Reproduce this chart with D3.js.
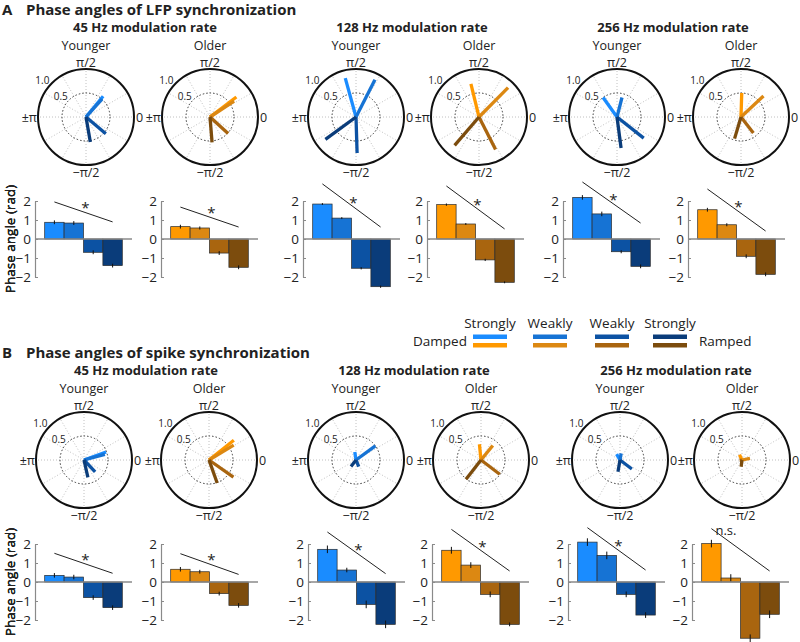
<!DOCTYPE html>
<html>
<head>
<meta charset="utf-8">
<script src="https://cdn.jsdelivr.net/npm/d3@7"></script>
<style>
  body { margin: 0; background: #fff; }
  text { font-family: "Open Sans", sans-serif; fill: #222; }
</style>
</head>
<body>
<script>
// subplot order everywhere: 45Y, 45O, 128Y, 128O, 256Y, 256O
var rates = ["45 Hz modulation rate", "128 Hz modulation rate", "256 Hz modulation rate"];
var groups = ["Younger", "Older"];
var conditions = ["Strongly", "Weakly", "Weakly", "Strongly"];

// LFP phase angles (rad), sem, and vector strength
var lfpPhase = [
    [0.88, 0.84, -0.70, -1.40],
    [0.65, 0.58, -0.74, -1.49],
    [1.84, 1.10, -1.54, -2.51],
    [1.81, 0.79, -1.10, -2.28],
    [2.19, 1.32, -0.67, -1.44],
    [1.54, 0.75, -0.91, -1.86]
];
var lfpErr = [
    [0.10, 0.10, 0.10, 0.10],
    [0.10, 0.08, 0.10, 0.10],
    [0.05, 0.05, 0.06, 0.06],
    [0.06, 0.05, 0.06, 0.05],
    [0.12, 0.12, 0.08, 0.10],
    [0.10, 0.08, 0.10, 0.10]
];
var lfpStrength = [
    [0.56, 0.50, 0.54, 0.53],
    [0.69, 0.60, 0.51, 0.53],
    [0.84, 0.87, 0.75, 0.79],
    [0.71, 0.86, 0.76, 0.78],
    [0.50, 0.42, 0.71, 0.65],
    [0.50, 0.64, 0.42, 0.47]
];
var lfpSigY = [[1.95, 0.90], [1.68, 0.63], [2.90, 0.63], [2.79, 0.53], [3.00, 0.84], [2.63, 0.42]];
var lfpSigLabel = ["*", "*", "*", "*", "*", "*"];

// spike phase angles (rad), sem, and vector strength
var spikePhase = [
    [0.35, 0.26, -0.82, -1.35],
    [0.67, 0.54, -0.61, -1.23],
    [1.72, 0.63, -1.18, -2.23],
    [1.67, 0.89, -0.65, -2.23],
    [2.10, 1.40, -0.65, -1.74],
    [2.02, 0.21, -2.96, -1.70]
];
var spikeErr = [
    [0.12, 0.12, 0.12, 0.12],
    [0.12, 0.10, 0.10, 0.12],
    [0.20, 0.12, 0.20, 0.20],
    [0.18, 0.15, 0.15, 0.10],
    [0.20, 0.20, 0.15, 0.15],
    [0.20, 0.20, 0.20, 0.20]
];
var spikeStrength = [
    [0.49, 0.45, 0.34, 0.37],
    [0.66, 0.60, 0.62, 0.51],
    [0.17, 0.50, 0.15, 0.17],
    [0.33, 0.39, 0.49, 0.51],
    [0.14, 0.14, 0.31, 0.25],
    [0.12, 0.17, 0.05, 0.14]
];
var spikeSigY = [[1.51, 0.46], [1.49, 0.40], [2.63, 0.44], [2.77, 0.58], [2.86, 0.63], [2.81, 0.58]];
var spikeSigLabel = ["*", "*", "*", "*", "*", "n.s."];

var blues = ["#1a8cff", "#1673d4", "#0c52a3", "#0a3c7a"];
var oranges = ["#ff9900", "#dc8812", "#a9650f", "#7c4c0d"];

var svg = d3.select("body").append("svg")
    .attr("width", 800)
    .attr("height", 642);

//layout of each panel
var panels = [
    { letter: "A", title: "Phase angles of LFP synchronization", top: 0,
      phase: lfpPhase, err: lfpErr, strength: lfpStrength, sig: lfpSigY, sigLabel: lfpSigLabel,
      polarX: [86, 210, 356, 479, 617, 741], barX: [35, 161, 303, 427, 563, 688],
      titleX: [145, 412, 673] },
    { letter: "B", title: "Phase angles of spike synchronization", top: 343,
      phase: spikePhase, err: spikeErr, strength: spikeStrength, sig: spikeSigY, sigLabel: spikeSigLabel,
      polarX: [84, 209, 356, 481, 620, 742], barX: [35, 161, 308, 432, 568, 692],
      titleX: [146, 414, 676] }
];

function drawPolar(g, cx, cy, phase, strength, cols) {
    var r = d3.scaleLinear().domain([0, 1]).range([0, 48]);
    var p = g.append("g").attr("transform", `translate(${cx}, ${cy})`);

    p.selectAll(".spoke")
        .data(d3.range(0, 360, 30))
        .enter()
        .append("line")
        .attr("x2", a => r(1) * Math.cos(a * Math.PI / 180))
        .attr("y2", a => -r(1) * Math.sin(a * Math.PI / 180))
        .attr("stroke", "#b0b0b0")
        .attr("stroke-width", 0.8)
        .attr("stroke-dasharray", "1,2");

    p.append("circle")
        .attr("r", r(0.5))
        .attr("fill", "none")
        .attr("stroke", "#222")
        .attr("stroke-width", 0.9)
        .attr("stroke-dasharray", "1.5,2");
    p.append("circle")
        .attr("r", r(1))
        .attr("fill", "none")
        .attr("stroke", "#111")
        .attr("stroke-width", 2);

    //radial labels
    [0.5, 1.0].forEach(v => {
        var a = 140 * Math.PI / 180;
        p.append("text")
            .text(v.toFixed(1))
            .attr("x", (r(v) + 9) * Math.cos(a))
            .attr("y", -(r(v) + 9) * Math.sin(a))
            .attr("text-anchor", "middle")
            .attr("dominant-baseline", "central")
            .attr("font-size", 10);
    });
    //angle labels
    p.append("text").text("π/2").attr("y", -54.5).attr("text-anchor", "middle")
        .attr("dominant-baseline", "central").attr("font-size", 12.5);
    p.append("text").text("−π/2").attr("y", 55).attr("text-anchor", "middle")
        .attr("dominant-baseline", "central").attr("font-size", 12.5);
    p.append("text").text("0").attr("x", 50).attr("text-anchor", "start")
        .attr("dominant-baseline", "central").attr("font-size", 12.5);
    p.append("text").text("±π").attr("x", -49).attr("text-anchor", "end")
        .attr("dominant-baseline", "central").attr("font-size", 12.5);

    var radial = d3.lineRadial()
        .angle(d => Math.PI / 2 - d[0])
        .radius(d => r(d[1]));
    p.selectAll(".vec")
        .data(phase)
        .enter()
        .append("path")
        .attr("d", (a, i) => radial([[a, 0], [a, strength[i]]]))
        .attr("stroke", (a, i) => cols[i])
        .attr("stroke-width", 3.3)
        .attr("fill", "none");
}

function drawBars(g, ax, zy, vals, errs, cols, sig, sigLabel, showLabel) {
    var x = d3.scaleLinear().domain([0, 5]).range([ax, ax + 97]);
    var y = d3.scaleLinear().domain([-2, 2]).range([zy + 38, zy - 38]);

    g.selectAll(".bar")
        .data(vals)
        .enter()
        .append("rect")
        .attr("x", (v, i) => x(i + 0.5))
        .attr("width", x(1) - x(0))
        .attr("y", v => y(Math.max(0, v)))
        .attr("height", v => Math.abs(y(v) - y(0)))
        .attr("fill", (v, i) => cols[i])
        .attr("stroke", "#2a2a2a")
        .attr("stroke-width", 0.7);

    g.selectAll(".err")
        .data(vals)
        .enter()
        .append("line")
        .attr("x1", (v, i) => x(i + 1))
        .attr("x2", (v, i) => x(i + 1))
        .attr("y1", (v, i) => y(v - errs[i]))
        .attr("y2", (v, i) => y(v + errs[i]))
        .attr("stroke", "#111")
        .attr("stroke-width", 1);

    g.append("line")
        .attr("x1", x(0)).attr("x2", x(5))
        .attr("y1", y(0)).attr("y2", y(0))
        .attr("stroke", "#8a8a8a")
        .attr("stroke-width", 1.5);

    var leftAxis = d3.axisLeft(y)
        .tickValues([-2, -1, 0, 1, 2])
        .tickFormat(d3.format("d"))
        .tickSizeInner(-3)
        .tickSizeOuter(0)
        .tickPadding(4);
    var axG = g.append("g")
        .attr("transform", `translate(${ax}, 0)`)
        .call(leftAxis);
    axG.select(".domain").attr("stroke", "#8a8a8a").attr("stroke-width", 1.2);
    axG.selectAll(".tick line").attr("stroke", "#8a8a8a");
    axG.selectAll(".tick text")
        .attr("font-size", 13.5)
        .attr("font-family", "Open Sans, sans-serif")
        .attr("fill", "#222");

    g.append("line")
        .attr("x1", x(1)).attr("y1", y(sig[0]))
        .attr("x2", x(4)).attr("y2", y(sig[1]))
        .attr("stroke", "#222")
        .attr("stroke-width", 1);

    var tx = sigLabel === "*" ? 2.6 : 1.75;
    var ty = sig[0] + (sig[1] - sig[0]) * (tx - 1) / 3 + 0.45;
    g.append("text")
        .text(sigLabel)
        .attr("x", x(tx))
        .attr("y", y(ty))
        .attr("dy", sigLabel === "*" ? "0.62em" : "0.35em")
        .attr("text-anchor", "middle")
        .attr("font-size", sigLabel === "*" ? 15 : 13);

    if (showLabel) {
        g.append("text")
            .text("Phase angle (rad)")
            .attr("transform", `translate(10, ${zy}) rotate(-90)`)
            .attr("text-anchor", "middle")
            .attr("dominant-baseline", "central")
            .attr("font-size", 13.5);
    }
}

panels.forEach(pn => {
    var g = svg.append("g").attr("transform", `translate(0, ${pn.top})`);
    g.append("text").text(pn.letter)
        .attr("x", 2).attr("y", 9)
        .attr("dominant-baseline", "central")
        .attr("font-size", 15).attr("font-weight", "bold");
    g.append("text").text(pn.title)
        .attr("x", 26).attr("y", 9)
        .attr("dominant-baseline", "central")
        .attr("font-size", 15).attr("font-weight", "bold");

    rates.forEach((rate, ri) => {
        g.append("text").text(rate)
            .attr("x", pn.titleX[ri]).attr("y", 27)
            .attr("text-anchor", "middle")
            .attr("dominant-baseline", "central")
            .attr("font-size", 13).attr("font-weight", "bold");

        groups.forEach((grp, gi) => {
            var k = ri * 2 + gi;
            var cols = gi === 0 ? blues : oranges;
            g.append("text").text(grp)
                .attr("x", pn.polarX[k]).attr("y", 45)
                .attr("text-anchor", "middle")
                .attr("dominant-baseline", "central")
                .attr("font-size", 12.5);
            drawPolar(g, pn.polarX[k], 117, pn.phase[k], pn.strength[k], cols);
            drawBars(g, pn.barX[k], 239, pn.phase[k], pn.err[k], cols,
                pn.sig[k], pn.sigLabel[k], gi === 0);
        });
    });
});

//legend
var legend = svg.append("g");
var swX = [473, 533, 595, 653];
legend.append("text").text("Damped")
    .attr("x", 413).attr("y", 341)
    .attr("dominant-baseline", "central")
    .attr("font-size", 13.5);
legend.append("text").text("Ramped")
    .attr("x", 699).attr("y", 341)
    .attr("dominant-baseline", "central")
    .attr("font-size", 13.5);
conditions.forEach((c, i) => {
    legend.append("text").text(c)
        .attr("x", swX[i] + 17).attr("y", 323)
        .attr("text-anchor", "middle")
        .attr("dominant-baseline", "central")
        .attr("font-size", 13.5);
    legend.append("rect")
        .attr("x", swX[i]).attr("y", 334.5)
        .attr("width", 34).attr("height", 4.5)
        .attr("fill", blues[i]);
    legend.append("rect")
        .attr("x", swX[i]).attr("y", 343)
        .attr("width", 34).attr("height", 4.5)
        .attr("fill", oranges[i]);
});
</script>
</body>
</html>
